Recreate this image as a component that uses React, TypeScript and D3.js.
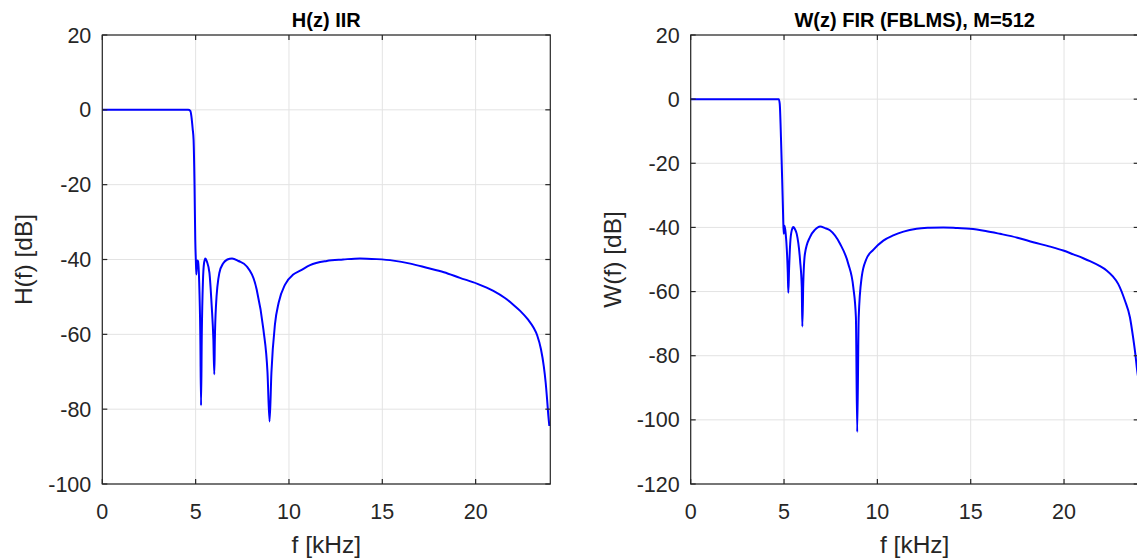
import React from "react";
import * as d3 from "d3";

// ---- data ----
const hFreq = [0, 4.6, 4.72, 4.78, 4.84, 4.89, 4.94, 4.98, 5.01, 5.04, 5.08, 5.13, 5.19, 5.25, 5.29, 5.33, 5.39, 5.45, 5.52, 5.6, 5.74, 5.86, 5.95, 6.0, 6.03, 6.09, 6.27, 6.48, 6.7, 6.95, 7.3, 7.73, 8.27, 8.63, 8.85, 8.96, 9.06, 9.25, 9.45, 9.79, 10.23, 10.6, 11.13, 12.02, 12.9, 13.8, 14.7, 15.59, 16.5, 17.38, 18.3, 19.16, 20.1, 20.95, 21.57, 22.0, 22.4, 22.8, 23.1, 23.3, 23.5, 23.65, 23.75, 23.83, 23.9, 23.95];
const hMag = [0, 0, -0.3, -2, -5, -8, -20, -34.7, -40, -44, -40.3, -40.5, -46, -60, -79, -60, -46, -41, -39.7, -40.5, -43.6, -52.4, -61.3, -70.7, -61.3, -52.4, -43.6, -41, -40, -39.7, -40.4, -41.8, -48, -58.7, -70.2, -83.3, -70.2, -57.3, -51.5, -46.7, -44, -43, -41.5, -40.4, -40, -39.7, -39.9, -40.3, -41.1, -42.2, -43.4, -44.9, -46.5, -48.4, -50.3, -52.0, -53.8, -56.0, -58.2, -60.3, -64.0, -68.5, -72.8, -77.5, -82, -84.5];

const wFreq = [0, 4.6, 4.72, 4.77, 4.84, 4.9, 4.95, 4.98, 5.03, 5.09, 5.15, 5.2, 5.23, 5.27, 5.33, 5.41, 5.5, 5.58, 5.68, 5.86, 5.95, 5.98, 6.03, 6.12, 6.39, 6.66, 6.93, 7.2, 7.46, 8.0, 8.44, 8.71, 8.85, 8.92, 9.0, 9.16, 9.4, 9.78, 10.32, 10.85, 11.4, 12.1, 12.8, 13.53, 14.3, 14.96, 15.8, 16.57, 17.5, 18.35, 19.2, 19.96, 20.5, 21.03, 21.39, 21.9, 22.28, 22.6, 22.9, 23.26, 23.53, 23.7, 23.83, 23.9, 24.0];
const wMag = [0, 0, 0, -1.5, -12.8, -25, -36, -42, -39.5, -42, -47, -54, -60.4, -53, -45, -41, -39.9, -40.5, -42, -50.3, -58.6, -70.9, -57.6, -48.2, -43, -40.7, -39.7, -40.2, -40.9, -45.1, -51.3, -58.6, -68, -103.8, -68, -55.5, -50, -47, -44.1, -42.5, -41.3, -40.4, -40.1, -40, -40.2, -40.4, -41.1, -42, -43.2, -44.6, -45.9, -47.2, -48.4, -49.6, -50.5, -52, -53.4, -55.2, -57.6, -62.8, -68, -74.3, -80, -83.7, -88];

const xTicks = [0, 5, 10, 15, 20];
const hYTicks = [-100, -80, -60, -40, -20, 0, 20];
const wYTicks = [-120, -100, -80, -60, -40, -20, 0, 20];

const FONT = "'Liberation Sans', Arial, Helvetica, sans-serif";
const AX = "#262626";
const GRID = "#e3e3e3";

type PanelProps = {
  left: number;
  title: string;
  ylabel: string;
  yDomain: [number, number];
  yTicks: number[];
  freq: number[];
  mag: number[];
};

function Panel({ left, title, ylabel, yDomain, yTicks, freq, mag }: PanelProps) {
  const top = 35;
  const bottom = 484;
  const width = 448;
  const x = d3.scaleLinear().domain([0, 24]).range([left, left + width]);
  const y = d3.scaleLinear().domain(yDomain).range([bottom, top]);
  const pts = freq.map((f, i) => [f, mag[i]] as [number, number]);
  const line = d3
    .line<[number, number]>()
    .x((d) => x(d[0]))
    .y((d) => y(d[1]))
    .curve(d3.curveMonotoneX);
  const right = left + width;
  const tl = 5;
  return (
    <g>
      {xTicks.map((t) => (
        <line key={"gx" + t} x1={x(t)} x2={x(t)} y1={top} y2={bottom} stroke={GRID} strokeWidth={1} />
      ))}
      {yTicks.map((t) => (
        <line key={"gy" + t} x1={left} x2={right} y1={y(t)} y2={y(t)} stroke={GRID} strokeWidth={1} />
      ))}
      <path d={line(pts) || ""} fill="none" stroke="#0000ff" strokeWidth={2} strokeLinejoin="round" />
      <rect x={left} y={top} width={width} height={bottom - top} fill="none" stroke={AX} strokeWidth={1.2} />
      {xTicks.map((t) => (
        <g key={"tx" + t}>
          <line x1={x(t)} x2={x(t)} y1={bottom} y2={bottom - tl} stroke={AX} strokeWidth={1.2} />
          <line x1={x(t)} x2={x(t)} y1={top} y2={top + tl} stroke={AX} strokeWidth={1.2} />
          <text x={x(t)} y={bottom + 35} textAnchor="middle" fontSize={21.5} fill={AX} fontFamily={FONT}>
            {t}
          </text>
        </g>
      ))}
      {yTicks.map((t) => (
        <g key={"ty" + t}>
          <line x1={left} x2={left + tl} y1={y(t)} y2={y(t)} stroke={AX} strokeWidth={1.2} />
          <line x1={right} x2={right - tl} y1={y(t)} y2={y(t)} stroke={AX} strokeWidth={1.2} />
          <text x={left - 11} y={y(t) + 7.5} textAnchor="end" fontSize={21.5} fill={AX} fontFamily={FONT}>
            {t}
          </text>
        </g>
      ))}
      <text x={left + width / 2} y={27} textAnchor="middle" fontSize={20} fontWeight="bold" fill="#000" fontFamily={FONT}>
        {title}
      </text>
      <text x={left + width / 2} y={553} textAnchor="middle" fontSize={24.5} fill={AX} fontFamily={FONT}>
        f [kHz]
      </text>
      <text
        transform={`translate(${left - 70},${(top + bottom) / 2}) rotate(-90)`}
        textAnchor="middle"
        fontSize={24.5}
        fill={AX}
        fontFamily={FONT}
      >
        {ylabel}
      </text>
    </g>
  );
}

export default function App() {
  return (
    <svg
      width={1137}
      height={559}
      style={{ position: "absolute", left: 0, top: 0, background: "#fff" }}
    >
      <rect x={0} y={0} width={1137} height={559} fill="#fff" />
      <Panel left={102.3} title="H(z) IIR" ylabel="H(f) [dB]" yDomain={[-100, 20]} yTicks={hYTicks} freq={hFreq} mag={hMag} />
      <Panel left={690.7} title="W(z) FIR (FBLMS), M=512" ylabel="W(f) [dB]" yDomain={[-120, 20]} yTicks={wYTicks} freq={wFreq} mag={wMag} />
    </svg>
  );
}
